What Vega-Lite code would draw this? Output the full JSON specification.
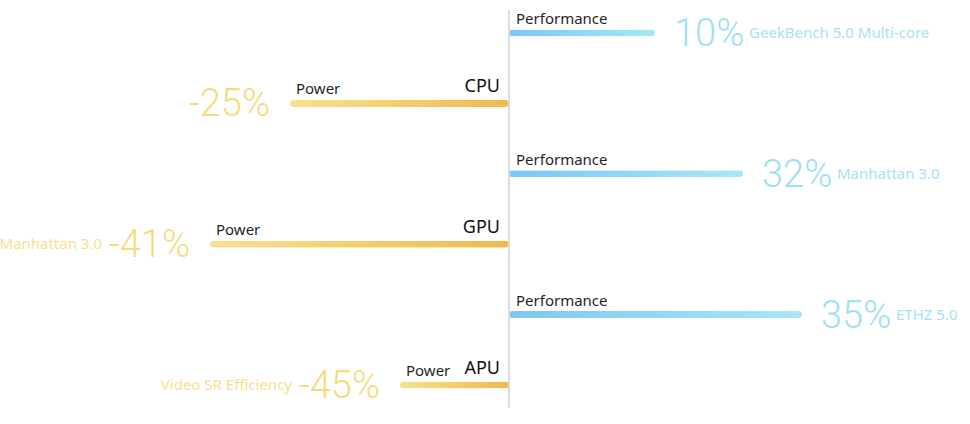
{
  "$schema": "https://vega.github.io/schema/vega-lite/v6.json",
  "autosize": {"type": "none"},
  "width": 970,
  "height": 398,
  "padding": {"left": 0, "right": 0, "top": 10, "bottom": 16},
  "background": "#ffffff",
  "config": {"view": {"stroke": null}},
  "data": {
    "values": [
      {"chip": "CPU", "metric": "Performance", "row": "CPU Performance", "bar": 146, "pct": "10%", "bench": "GeekBench 5.0 Multi-core"},
      {"chip": "CPU", "metric": "Power", "row": "CPU Power", "bar": -219, "pct": "-25%", "bench": ""},
      {"chip": "GPU", "metric": "Performance", "row": "GPU Performance", "bar": 234, "pct": "32%", "bench": "Manhattan 3.0"},
      {"chip": "GPU", "metric": "Power", "row": "GPU Power", "bar": -299, "pct": "-41%", "bench": "Manhattan 3.0"},
      {"chip": "APU", "metric": "Performance", "row": "APU Performance", "bar": 293, "pct": "35%", "bench": "ETHZ 5.0"},
      {"chip": "APU", "metric": "Power", "row": "APU Power", "bar": -109, "pct": "-45%", "bench": "Video SR Efficiency"}
    ]
  },
  "encoding": {
    "y": {
      "field": "row",
      "type": "nominal",
      "sort": ["CPU Performance", "CPU Power", "GPU Performance", "GPU Power", "APU Performance", "APU Power"],
      "scale": {"type": "point", "padding": 0.327},
      "axis": null
    },
    "x": {
      "field": "bar",
      "type": "quantitative",
      "scale": {"domain": [-509, 461], "nice": false},
      "axis": null
    }
  },
  "layer": [
    {
      "transform": [{"filter": "datum.metric === 'Performance'"}],
      "mark": {
        "type": "bar",
        "size": 7,
        "cornerRadius": 3.5,
        "color": {
          "gradient": "linear", "x1": 0, "y1": 0, "x2": 1, "y2": 0,
          "stops": [{"offset": 0, "color": "#7cc7f6"}, {"offset": 1, "color": "#a7e7f5"}]
        }
      }
    },
    {
      "transform": [{"filter": "datum.metric === 'Power'"}],
      "mark": {
        "type": "bar",
        "size": 7,
        "cornerRadius": 3.5,
        "color": {
          "gradient": "linear", "x1": 0, "y1": 0, "x2": 1, "y2": 0,
          "stops": [{"offset": 0, "color": "#f8e18f"}, {"offset": 1, "color": "#f0b94f"}]
        }
      }
    },
    {
      "mark": {"type": "rule", "color": "#dcdcdc", "strokeWidth": 2},
      "encoding": {"x": {"datum": 0}, "y": null}
    },
    {
      "transform": [{"filter": "datum.metric === 'Performance'"}],
      "mark": {"type": "text", "align": "left", "baseline": "alphabetic", "dx": 7, "dy": -9, "font": "Noto Sans", "fontSize": 15, "color": "#1f1f1f"},
      "encoding": {"x": {"datum": 0}, "text": {"field": "metric"}}
    },
    {
      "transform": [{"filter": "datum.metric === 'Power'"}],
      "mark": {"type": "text", "align": "left", "baseline": "alphabetic", "dx": 6, "dy": -9, "font": "Noto Sans", "fontSize": 15, "color": "#1f1f1f"},
      "encoding": {"text": {"field": "metric"}}
    },
    {
      "transform": [{"filter": "datum.metric === 'Power'"}],
      "mark": {"type": "text", "align": "right", "baseline": "alphabetic", "dx": -9, "dy": -11, "font": "Noto Sans", "fontSize": 18, "color": "#111111"},
      "encoding": {"x": {"datum": 0}, "text": {"field": "chip"}}
    },
    {
      "transform": [{"filter": "datum.metric === 'Performance'"}],
      "mark": {"type": "text", "align": "left", "baseline": "alphabetic", "dx": 19, "dy": 13, "font": "Roboto", "fontWeight": 300, "fontSize": 38, "color": "#9fe0f4"},
      "encoding": {"text": {"field": "pct"}}
    },
    {
      "transform": [{"filter": "datum.metric === 'Power'"}],
      "mark": {"type": "text", "align": "right", "baseline": "alphabetic", "dx": -20, "dy": 13, "font": "Roboto", "fontWeight": 300, "fontSize": 38, "color": "#f7db80"},
      "encoding": {"text": {"field": "pct"}}
    },
    {
      "transform": [{"filter": "datum.metric === 'Performance'"}],
      "mark": {"type": "text", "align": "left", "baseline": "alphabetic", "dx": 94, "dy": 5, "font": "Noto Sans", "fontSize": 15, "color": "#a6e3f4"},
      "encoding": {"text": {"field": "bench"}}
    },
    {
      "transform": [{"filter": "datum.metric === 'Power'"}],
      "mark": {"type": "text", "align": "right", "baseline": "alphabetic", "dx": -108, "dy": 5, "font": "Noto Sans", "fontSize": 15, "color": "#f8df90"},
      "encoding": {"text": {"field": "bench"}}
    }
  ]
}
